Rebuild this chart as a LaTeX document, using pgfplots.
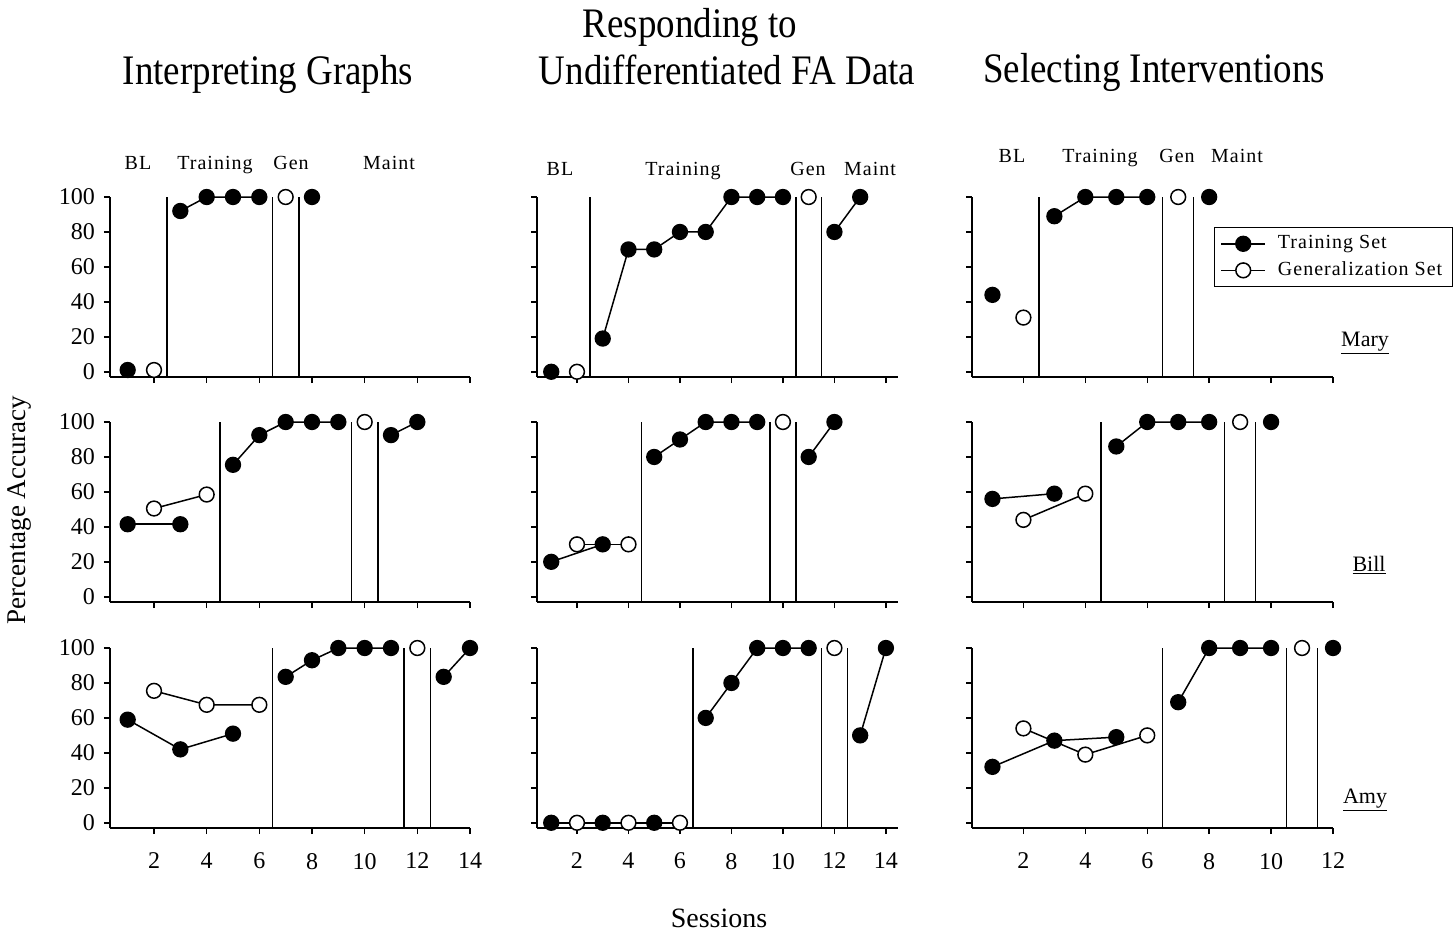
\documentclass[border=0pt]{standalone}
\usepackage{fontspec}
\setmainfont{Liberation Serif}
\newfontfamily\titlefont[FakeStretch=0.88]{Liberation Serif}
\newfontfamily\phasefont[LetterSpace=5]{Liberation Serif}
\usepackage{pgfplots}
\pgfplotsset{compat=1.18}

\pgfplotsset{
  trainmark/.style={black, line width=0.75pt, mark=*, mark size=3.7pt, mark options={fill=black, solid}},
  genmark/.style={black, line width=0.75pt, mark=*, mark size=3.7pt, mark options={fill=white, solid}},
  train/.style={trainmark, forget plot},
  gen/.style={genmark, forget plot},
  phase/.style={black, line width=0.75pt, no marks, forget plot},
  panel/.style={
    scale only axis, height=90pt, ymin=-3, ymax=100,
    axis x line=bottom, axis y line=left,
    axis line style={-, line width=0.9pt},
    ytick={0,20,...,100}, tick align=outside, major tick length=3pt,
    tick style={line width=0.75pt, black},
    clip=false, anchor=south west,
    /pgf/number format/assume math mode=true,
    tick label style={font=\fontsize{12}{12}\selectfont},
    xticklabel style={yshift=-6pt}, yticklabel style={xshift=-1pt},
  },
  c1/.style={at={(55pt,#1)}, width=180pt, xmin=0.329, xmax=14, xtick={2,4,...,14}},
  c2/.style={at={(268.5pt,#1)}, width=180.5pt, xmin=0.447, xmax=14.47, xtick={2,4,...,14}, yticklabels={}},
  c3/.style={at={(486pt,#1)}, width=180.5pt, xmin=0.34, xmax=12, xtick={2,4,...,12}, yticklabels={}},
}

\begin{document}
\begin{tikzpicture}
\useasboundingbox (0,0) rectangle (727.5pt,-466pt);

% ---------- column 1: Interpreting Graphs ----------
\begin{axis}[panel, c1=-188.5pt, xticklabels={}]
\addplot[train] coordinates {(1,1)};
\addplot[gen] coordinates {(2,1)};
\addplot[phase] coordinates {(2.5,-3) (2.5,100)};
\addplot[train] coordinates {(3,92) (4,100) (5,100) (6,100)};
\addplot[phase] coordinates {(6.5,-3) (6.5,100)};
\addplot[gen] coordinates {(7,100)};
\addplot[phase] coordinates {(7.5,-3) (7.5,100)};
\addplot[train] coordinates {(8,100)};
\end{axis}

\begin{axis}[panel, c1=-301pt, xticklabels={}]
\addplot[train] coordinates {(1,41.5) (3,41.5)};
\addplot[gen] coordinates {(2,50.5) (4,58.5)};
\addplot[phase] coordinates {(4.5,-3) (4.5,100)};
\addplot[train] coordinates {(5,75.5) (6,92.5) (7,100) (8,100) (9,100)};
\addplot[phase] coordinates {(9.5,-3) (9.5,100)};
\addplot[gen] coordinates {(10,100)};
\addplot[phase] coordinates {(10.5,-3) (10.5,100)};
\addplot[train] coordinates {(11,92.5) (12,100)};
\end{axis}

\begin{axis}[panel, c1=-414pt]
\addplot[train] coordinates {(1,59) (3,42) (5,51)};
\addplot[gen] coordinates {(2,75.5) (4,67.5) (6,67.5)};
\addplot[phase] coordinates {(6.5,-3) (6.5,100)};
\addplot[train] coordinates {(7,83.5) (8,93) (9,100) (10,100) (11,100)};
\addplot[phase] coordinates {(11.5,-3) (11.5,100)};
\addplot[gen] coordinates {(12,100)};
\addplot[phase] coordinates {(12.5,-3) (12.5,100)};
\addplot[train] coordinates {(13,83.5) (14,100)};
\end{axis}

% ---------- column 2: Responding to Undifferentiated FA Data ----------
\begin{axis}[panel, c2=-188.5pt, xticklabels={}]
\addplot[train] coordinates {(1,0)};
\addplot[gen] coordinates {(2,0)};
\addplot[phase] coordinates {(2.5,-3) (2.5,100)};
\addplot[train] coordinates {(3,19) (4,70) (5,70) (6,80) (7,80) (8,100) (9,100) (10,100)};
\addplot[phase] coordinates {(10.5,-3) (10.5,100)};
\addplot[gen] coordinates {(11,100)};
\addplot[phase] coordinates {(11.5,-3) (11.5,100)};
\addplot[train] coordinates {(12,80) (13,100)};
\end{axis}

\begin{axis}[panel, c2=-301pt, xticklabels={}]
\addplot[train] coordinates {(1,20) (3,30)};
\addplot[gen] coordinates {(2,30) (4,30)};
\addplot[phase] coordinates {(4.5,-3) (4.5,100)};
\addplot[train] coordinates {(5,80) (6,90) (7,100) (8,100) (9,100)};
\addplot[phase] coordinates {(9.5,-3) (9.5,100)};
\addplot[gen] coordinates {(10,100)};
\addplot[phase] coordinates {(10.5,-3) (10.5,100)};
\addplot[train] coordinates {(11,80) (12,100)};
\end{axis}

\begin{axis}[panel, c2=-414pt]
\addplot[train] coordinates {(1,0) (3,0) (5,0)};
\addplot[gen] coordinates {(2,0) (4,0) (6,0)};
\addplot[phase] coordinates {(6.5,-3) (6.5,100)};
\addplot[train] coordinates {(7,60) (8,80) (9,100) (10,100) (11,100)};
\addplot[phase] coordinates {(11.5,-3) (11.5,100)};
\addplot[gen] coordinates {(12,100)};
\addplot[phase] coordinates {(12.5,-3) (12.5,100)};
\addplot[train] coordinates {(13,50) (14,100)};
\end{axis}

% ---------- column 3: Selecting Interventions ----------
\begin{axis}[panel, c3=-188.5pt, xticklabels={},
  legend style={at={(0.67,0.833)}, anchor=north west, draw=black, line width=0.6pt,
    font=\phasefont\fontsize{10}{12}\selectfont, inner xsep=3pt, inner ysep=2pt,
    row sep=1pt, cells={anchor=west}},
  legend image code/.code={\draw[mark repeat=2,mark phase=2,#1] plot coordinates {(0pt,0pt) (11pt,0pt) (22pt,0pt)};
    \path (26pt,0pt);}]
\addlegendimage{trainmark}
\addlegendentry{Training Set}
\addlegendimage{genmark}
\addlegendentry{Generalization Set}
\addplot[train] coordinates {(1,44)};
\addplot[gen] coordinates {(2,31)};
\addplot[phase] coordinates {(2.5,-3) (2.5,100)};
\addplot[train] coordinates {(3,89) (4,100) (5,100) (6,100)};
\addplot[phase] coordinates {(6.5,-3) (6.5,100)};
\addplot[gen] coordinates {(7,100)};
\addplot[phase] coordinates {(7.5,-3) (7.5,100)};
\addplot[train] coordinates {(8,100)};
\end{axis}

\begin{axis}[panel, c3=-301pt, xticklabels={}]
\addplot[train] coordinates {(1,56) (3,59)};
\addplot[gen] coordinates {(2,44) (4,59)};
\addplot[phase] coordinates {(4.5,-3) (4.5,100)};
\addplot[train] coordinates {(5,86) (6,100) (7,100) (8,100)};
\addplot[phase] coordinates {(8.5,-3) (8.5,100)};
\addplot[gen] coordinates {(9,100)};
\addplot[phase] coordinates {(9.5,-3) (9.5,100)};
\addplot[train] coordinates {(10,100)};
\end{axis}

\begin{axis}[panel, c3=-414pt]
\addplot[train] coordinates {(1,32) (3,47) (5,49)};
\addplot[gen] coordinates {(2,54) (4,39) (6,50)};
\addplot[phase] coordinates {(6.5,-3) (6.5,100)};
\addplot[train] coordinates {(7,69) (8,100) (9,100) (10,100)};
\addplot[phase] coordinates {(10.5,-3) (10.5,100)};
\addplot[gen] coordinates {(11,100)};
\addplot[phase] coordinates {(11.5,-3) (11.5,100)};
\addplot[train] coordinates {(12,100)};
\end{axis}

% ---------- titles and labels ----------
\begin{scope}[every node/.style={inner sep=0pt, anchor=base}]
\node[font=\titlefont\fontsize{21}{24}\selectfont] at (134pt,-42pt) {Interpreting Graphs};
\node[font=\titlefont\fontsize{21}{24}\selectfont] at (345pt,-18.5pt) {Responding to};
\node[font=\titlefont\fontsize{21}{24}\selectfont] at (363.5pt,-42pt) {Undifferentiated FA Data};
\node[font=\titlefont\fontsize{21}{24}\selectfont] at (577pt,-41pt) {Selecting Interventions};

\begin{scope}[every node/.append style={font=\phasefont\fontsize{10}{12}\selectfont}]
\node at (69pt,-84.5pt) {BL};
\node at (107.5pt,-84.5pt) {Training};
\node at (145.5pt,-84.5pt) {Gen};
\node at (194.5pt,-84.5pt) {Maint};
\node at (280pt,-87.75pt) {BL};
\node at (341.5pt,-87.75pt) {Training};
\node at (404pt,-87.75pt) {Gen};
\node at (435pt,-87.75pt) {Maint};
\node at (506pt,-81.25pt) {BL};
\node at (550pt,-81.25pt) {Training};
\node at (588.5pt,-81.25pt) {Gen};
\node at (618.5pt,-81.25pt) {Maint};
\end{scope}

\begin{scope}[every node/.append style={font=\fontsize{11}{12}\selectfont}]
\node at (682.5pt,-173pt) {\underline{Mary}};
\node at (684.5pt,-285.5pt) {\underline{Bill}};
\node at (682.5pt,-401.5pt) {\underline{Amy}};
\end{scope}

\node[font=\fontsize{13.5}{15}\selectfont, rotate=90, anchor=center] at (10pt,-255pt) {Percentage Accuracy};
\node[font=\fontsize{14}{16}\selectfont] at (359.5pt,-463.5pt) {Sessions};
\end{scope}
\end{tikzpicture}
\end{document}
